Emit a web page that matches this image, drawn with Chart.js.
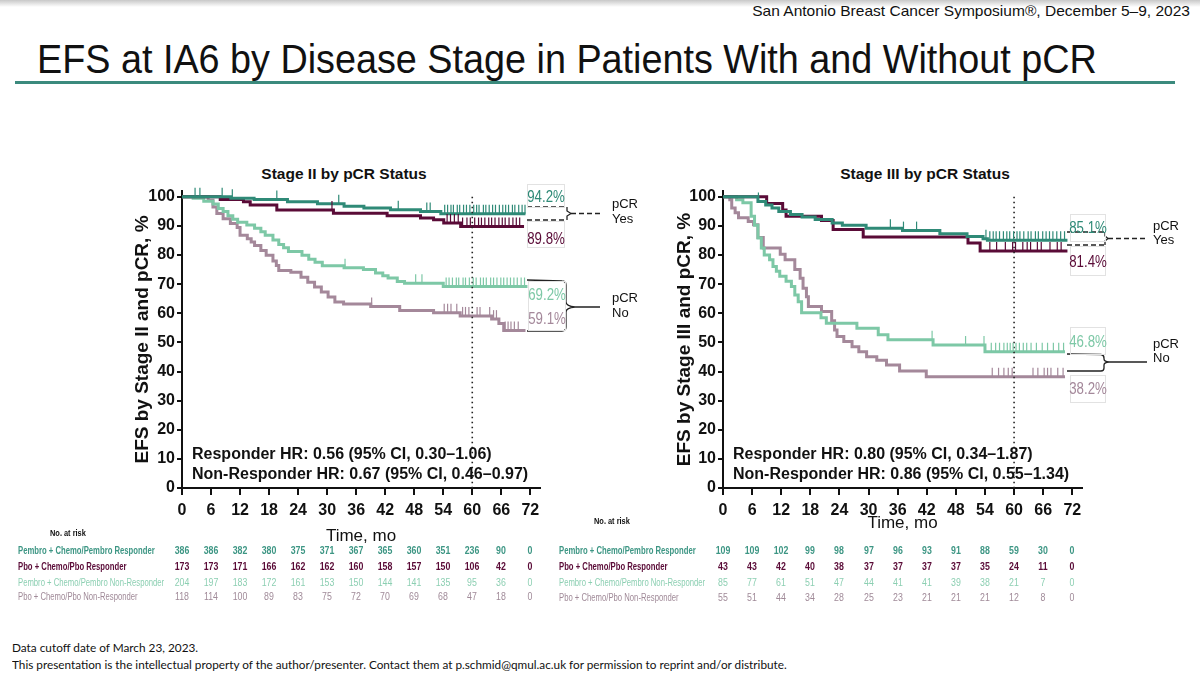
<!DOCTYPE html>
<html>
<head>
<meta charset="utf-8">
<script src="https://cdn.jsdelivr.net/npm/chart.js@4.4.0/dist/chart.umd.min.js"></script>
<style>
  body { margin:0; width:1200px; height:676px; position:relative; overflow:hidden; background:#fff;
         font-family:'Liberation Sans', Arial, sans-serif; color:#111; }
  .t { position:absolute; white-space:nowrap; line-height:1; }
  .shadow { position:absolute; left:0; top:0; width:1200px; height:7px; background:linear-gradient(#c8c8c8,#fff); }
  .rule { position:absolute; left:15px; top:81px; width:1160px; height:3px; background:#3b8a7d; }
  .box { position:absolute; border:1px solid #e2e2e2; box-sizing:border-box; }
  canvas { position:absolute; }
</style>
</head>
<body>
<div class="shadow"></div>
<div id="hdr" class="t" style="right:10px;top:3px;font-size:15px;transform-origin:right top;">San Antonio Breast Cancer Symposium®, December 5–9, 2023</div>
<div id="ttl" class="t" style="left:37px;top:39px;font-size:40px;transform-origin:left top;">EFS at IA6 by Disease Stage in Patients With and Without pCR</div>
<div class="rule"></div>

<div class="t" style="left:344px;top:166px;font-size:15.5px;font-weight:bold;transform:translateX(-50%);">Stage II by pCR Status</div>
<div class="t" style="left:925px;top:166px;font-size:15.5px;font-weight:bold;transform:translateX(-50%);">Stage III by pCR Status</div>

<canvas id="c2" width="600" height="460" style="left:0;top:150px;"></canvas>
<canvas id="c3" width="650" height="460" style="left:550px;top:150px;"></canvas>

<div id="overlay"></div>

<div class="t" style="left:12px;top:642px;font-size:11.8px;font-family:Lato,'Liberation Sans',sans-serif;">Data cutoff date of March 23, 2023.</div>
<div id="foot" class="t" style="left:12px;top:659px;font-size:11.8px;font-family:Lato,'Liberation Sans',sans-serif;transform-origin:left top;">This presentation is the intellectual property of the author/presenter. Contact them at p.schmid@qmul.ac.uk for permission to reprint and/or distribute.</div>

<script>
// ---------- data ----------
const months = [0, 6, 12, 18, 24, 30, 36, 42, 48, 54, 60, 66, 72];
const pctTicks = [0, 10, 20, 30, 40, 50, 60, 70, 80, 90, 100];

// Stage II
const s2PembroRespT = [0, 10.1, 14.9, 21.8, 28, 33.5, 37.6, 43.1, 49.3, 53.5, 71];
const s2PembroRespV = [100, 99.5, 99.1, 98.3, 97.6, 96.8, 96.2, 95.6, 95.0, 94.2, 94.2];
const s2PboRespT = [0, 7.9, 12.7, 14.1, 19.6, 31.3, 42.4, 49.3, 52, 54.1, 57.6, 70.7];
const s2PboRespV = [100, 99.1, 98.3, 97.2, 95.5, 94.4, 93.5, 92.7, 92.1, 91.0, 89.8, 89.8];
const s2PembroNonT = [0, 2.3, 4.5, 6.4, 7.5, 8.5, 9.5, 10.5, 11.5, 13.4, 15, 16.3, 17.2, 18.8, 20, 21, 22, 24.8, 26.2, 27.5, 29, 33.5, 37.5, 40, 41.5, 42.6, 44.5, 46, 54, 71.4];
const s2PembroNonV = [100, 99.5, 98.5, 97.5, 96, 95, 93.5, 92.3, 91.3, 90.3, 89.2, 88, 86.8, 85.2, 83.6, 82.5, 81.2, 79.9, 78.6, 77.5, 76.3, 75.6, 75.0, 73.8, 72.9, 72.1, 70.9, 70.3, 69.2, 69.2];
const s2PboNonT = [0, 5.4, 6.4, 7.2, 8.5, 10, 11.4, 12, 13.5, 14.3, 15, 16.3, 17.4, 18.8, 19.5, 20, 22.5, 24.6, 26, 27.4, 28.8, 30.2, 31.6, 33.4, 39, 45, 52, 57.5, 64, 65.5, 66.5, 71];
const s2PboNonV = [100, 98.8, 96.5, 94.3, 92.5, 90.8, 89.5, 86.8, 85.6, 84.5, 83.3, 81.6, 79.9, 78.0, 76.4, 74.7, 74.1, 72.4, 70.7, 69.0, 67.3, 65.6, 63.9, 63.2, 62.3, 61.0, 60.2, 59.1, 58.0, 56.5, 54.1, 54.1];

const s2PembroRespCens = [2.7, 3.7, 8.3, 10.4, 19.6, 32.4, 44.7, 50.6, 51.3, 54.3, 54.9, 55.6, 56.1, 56.9, 57.4, 58.2, 58.8, 59.5, 60.3, 60.9, 61.4, 62.3, 62.8, 63.5, 64.2, 64.8, 65.6, 66.3, 66.9, 67.5, 68.3, 68.8, 69.6, 70.3, 70.9];
const s2PboRespCens = [31.0, 54.8, 55.5, 56.3, 57.1, 58.0, 58.9, 59.6, 60.5, 61.3, 61.9, 62.6, 63.4, 64.0, 64.7, 65.5, 66.2, 66.8, 67.6, 68.4, 69.1, 69.8];
const s2PembroNonCens = [33.7, 48.3, 49.6, 54.6, 55.2, 55.9, 56.7, 57.2, 58.1, 58.6, 59.4, 60.2, 60.8, 61.7, 62.3, 62.9, 63.8, 64.4, 65.1, 65.9, 66.5, 67.2, 67.9, 68.6, 69.3, 70.1, 70.8];
const s2PboNonCens = [39.2, 54.2, 54.9, 55.6, 56.8, 58.0, 58.6, 59.3, 61.0, 61.6, 63.6, 64.4, 65.0, 66.8, 67.4, 68.0, 68.7, 69.5];

// Stage III
const s3PembroRespT = [0, 7.2, 8.8, 10.1, 11.5, 13.9, 16.3, 19, 22.5, 24.6, 29.5, 37, 44.7, 50.3, 53.6, 54.5, 71];
const s3PembroRespV = [100, 98.4, 97.2, 96.2, 95.0, 93.9, 93.1, 92.2, 91.0, 90.2, 89.2, 88.4, 87.3, 86.4, 85.6, 85.1, 85.1];
const s3PboRespT = [0, 9, 12.3, 13, 20.3, 22.7, 28.9, 50.5, 53, 71];
const s3PboRespV = [100, 97.7, 95.5, 93.3, 91.9, 88.8, 86.2, 84.1, 81.4, 81.4];
const s3PembroNonT = [0, 2.8, 4.1, 5.8, 6.5, 7.2, 7.9, 8.5, 9.6, 10.3, 11, 11.7, 13, 14.1, 14.8, 15.5, 16.2, 20.2, 21.3, 27.6, 32, 34, 43.3, 54, 70.5];
const s3PembroNonV = [100, 99, 98, 93.3, 90.2, 85.9, 82.4, 80, 78.4, 76.1, 74.4, 72.7, 71, 69.2, 66.3, 64, 60.2, 58.5, 56.6, 54.9, 52.6, 50.9, 49.1, 46.8, 46.8];
const s3PboNonT = [0, 1.4, 1.8, 2.5, 3.2, 5.2, 6.3, 7.2, 8.3, 11.8, 12.8, 14.8, 15.9, 16.5, 17.2, 17.6, 20.3, 22.4, 23, 23.5, 24.9, 26.6, 28, 29.6, 31.7, 33.7, 36.4, 41.9, 70.5];
const s3PboNonV = [100, 99, 96.2, 94.5, 92.8, 91.5, 90.4, 86, 82.4, 80.3, 78.4, 75, 72, 68.6, 65.7, 62.3, 60.6, 57.4, 54.3, 52, 50.3, 48.5, 46.8, 45.1, 43.9, 42.2, 40.2, 38.2, 38.2];

const s3PembroRespCens = [7.3, 34.5, 37.2, 39.9, 54.2, 55.0, 55.7, 56.3, 57.0, 57.8, 58.5, 59.1, 59.9, 60.6, 61.2, 62.0, 62.9, 63.5, 64.4, 65.0, 65.9, 66.6, 67.3, 68.0, 68.8, 69.6, 70.4];
const s3PboRespCens = [55.0, 56.4, 58.2, 59.7, 60.3, 61.8, 62.7, 63.4, 64.8, 65.6, 67.4, 68.9, 69.7];
const s3PembroNonCens = [43.1, 50.0, 53.8, 55.3, 56.2, 57.0, 57.9, 58.6, 59.2, 59.8, 60.4, 61.1, 61.9, 62.6, 63.5, 64.6, 65.8, 66.9, 68.1, 69.2, 70.2];
const s3PboNonCens = [55.5, 56.8, 57.9, 58.8, 59.6, 63.9, 64.9, 66.2, 66.9, 67.6, 69.0, 70.1];

// numbers at risk
const riskLabels = ['Pembro + Chemo/Pembro Responder', 'Pbo + Chemo/Pbo Responder', 'Pembro + Chemo/Pembro Non-Responder', 'Pbo + Chemo/Pbo Non-Responder'];
const s2RiskPembroResp = [386, 386, 382, 380, 375, 371, 367, 365, 360, 351, 236, 90, 0];
const s2RiskPboResp = [173, 173, 171, 166, 162, 162, 160, 158, 157, 150, 106, 42, 0];
const s2RiskPembroNon = [204, 197, 183, 172, 161, 153, 150, 144, 141, 135, 95, 36, 0];
const s2RiskPboNon = [118, 114, 100, 89, 83, 75, 72, 70, 69, 68, 47, 18, 0];
const s3RiskPembroResp = [109, 109, 102, 99, 98, 97, 96, 93, 91, 88, 59, 30, 0];
const s3RiskPboResp = [43, 43, 42, 40, 38, 37, 37, 37, 37, 35, 24, 11, 0];
const s3RiskPembroNon = [85, 77, 61, 51, 47, 44, 41, 41, 39, 38, 21, 7, 0];
const s3RiskPboNon = [55, 51, 44, 34, 28, 25, 23, 21, 21, 21, 12, 8, 0];

// ---------- style ----------
const SANS = "'Liberation Sans', Arial, sans-serif";
const colPR = '#2f8a77', colBR = '#5a0b37', colPN = '#7dc8a6', colBN = '#a4889a';
const txtPR = '#3d9684', txtBR = '#5a0b37', txtPN = '#8ccfb2', txtBN = '#a08a98';

// fit a text element to a width by squeezing it horizontally (no narrow font installed)
function fitWidth(el, w) {
  const s = w / el.offsetWidth;
  el.style.transform = 'scaleX(' + s.toFixed(3) + ')';
}
fitWidth(document.getElementById('ttl'), 1060);
fitWidth(document.getElementById('hdr'), 438);
fitWidth(document.getElementById('foot'), 775);

function stepAt(ts, vs, t) {
  let v = vs[0];
  for (let i = 0; i < ts.length; i++) { if (ts[i] <= t) v = vs[i]; }
  return v;
}

function kmSet(ts, vs, color) {
  return { data: ts.map((t, i) => ({ x: t, y: vs[i] })), stepped: true, borderColor: color,
           borderWidth: 3, pointRadius: 0, fill: false, borderCapStyle: 'butt' };
}

function makeChart(id, curves, yTitle, pad, xHeight, yWidth, drawBrackets) {
  const extras = {
    id: 'kmExtras',
    afterDatasetsDraw(chart) {
      const { ctx, scales: { x, y } } = chart;
      ctx.save();
      // 60-month reference line
      ctx.strokeStyle = '#222'; ctx.lineWidth = 1.6; ctx.setLineDash([1.5, 3.5]);
      ctx.beginPath();
      ctx.moveTo(x.getPixelForValue(60), y.getPixelForValue(100));
      ctx.lineTo(x.getPixelForValue(60), y.getPixelForValue(0));
      ctx.stroke();
      ctx.setLineDash([]);
      // censor ticks
      curves.forEach(c => {
        ctx.strokeStyle = c.color; ctx.lineWidth = 1.2;
        c.cens.forEach(t => {
          const px = x.getPixelForValue(t), py = y.getPixelForValue(stepAt(c.t, c.v, t));
          ctx.beginPath(); ctx.moveTo(px, py); ctx.lineTo(px, py - 9); ctx.stroke();
        });
      });
      drawBrackets(ctx);
      ctx.restore();
    }
  };
  return new Chart(document.getElementById(id), {
    type: 'line',
    data: { datasets: curves.map(c => kmSet(c.t, c.v, c.color)) },
    options: {
      responsive: false, animation: false,
      layout: { padding: pad },
      plugins: { legend: { display: false }, tooltip: { enabled: false } },
      scales: {
        x: {
          type: 'linear', min: 0, max: 74,
          afterBuildTicks: s => { s.ticks = months.map(v => ({ value: v })); },
          afterFit: s => { s.height = xHeight; },
          ticks: { color: '#111', padding: 6, maxRotation: 0, font: { family: SANS, size: 16, weight: 'bold' } },
          grid: { drawOnChartArea: false, drawTicks: true, tickLength: 7, color: '#111', lineWidth: 2 },
          border: { color: '#111', width: 2 },
          title: { display: true, text: 'Time, mo', color: '#111', padding: { top: 0, bottom: 4 },
                   font: { family: SANS, size: 17 } }
        },
        y: {
          min: 0, max: 102,
          afterBuildTicks: s => { s.ticks = pctTicks.map(v => ({ value: v })); },
          afterFit: s => { s.width = yWidth; },
          ticks: { color: '#111', padding: 2, font: { family: SANS, size: 16, weight: 'bold' } },
          grid: { drawOnChartArea: false, drawTicks: true, tickLength: 5, color: '#111', lineWidth: 2 },
          border: { color: '#111', width: 2 },
          title: { display: true, text: yTitle, color: '#111', padding: { top: 2, bottom: 2 },
                   font: { family: SANS, size: 19, weight: 'bold' } }
        }
      }
    },
    plugins: [extras]
  });
}

function dashed(ctx, x1, y1, x2, y2) {
  ctx.setLineDash([5, 3]); ctx.beginPath(); ctx.moveTo(x1, y1); ctx.lineTo(x2, y2); ctx.stroke(); ctx.setLineDash([]);
}

const chart2 = makeChart('c2', [
  { t: s2PembroRespT, v: s2PembroRespV, cens: s2PembroRespCens, color: colPR },
  { t: s2PboRespT, v: s2PboRespV, cens: s2PboRespCens, color: colBR },
  { t: s2PembroNonT, v: s2PembroNonV, cens: s2PembroNonCens, color: colPN },
  { t: s2PboNonT, v: s2PboNonV, cens: s2PboNonCens, color: colBN }
], 'EFS by Stage II and pCR, %', { left: 129, top: 41, right: 60, bottom: 59 }, 63, 53, ctx => {
  ctx.strokeStyle = '#222'; ctx.lineWidth = 1.3;
  dashed(ctx, 527, 57, 567, 57);
  dashed(ctx, 527, 70, 567, 70);
  ctx.beginPath(); ctx.moveTo(567, 57); ctx.lineTo(567, 61); ctx.lineTo(571, 63.5); ctx.lineTo(567, 66); ctx.lineTo(567, 70); ctx.stroke();
  dashed(ctx, 571, 63.5, 608, 63.5);
  ctx.beginPath();
  ctx.moveTo(527, 130); ctx.lineTo(562, 131); ctx.quadraticCurveTo(566, 131, 566, 135);
  ctx.lineTo(566, 152); ctx.quadraticCurveTo(566, 156, 575, 157); ctx.quadraticCurveTo(566, 158, 566, 162);
  ctx.lineTo(566, 177); ctx.quadraticCurveTo(566, 181, 562, 181); ctx.lineTo(527, 181);
  ctx.moveTo(575, 157); ctx.lineTo(608, 157);
  ctx.stroke();
});

const chart3 = makeChart('c3', [
  { t: s3PembroRespT, v: s3PembroRespV, cens: s3PembroRespCens, color: colPR },
  { t: s3PboRespT, v: s3PboRespV, cens: s3PboRespCens, color: colBR },
  { t: s3PembroNonT, v: s3PembroNonV, cens: s3PembroNonCens, color: colPN },
  { t: s3PboNonT, v: s3PboNonV, cens: s3PboNonCens, color: colBN }
], 'EFS by Stage III and pCR, %', { left: 121, top: 41, right: 118, bottom: 72 }, 50, 52, ctx => {
  ctx.strokeStyle = '#222'; ctx.lineWidth = 1.3;
  dashed(ctx, 517, 82, 555, 82);
  dashed(ctx, 517, 95, 555, 95);
  ctx.beginPath(); ctx.moveTo(555, 82); ctx.lineTo(555, 86); ctx.lineTo(558, 88.5); ctx.lineTo(555, 91); ctx.lineTo(555, 95); ctx.stroke();
  dashed(ctx, 558, 88.5, 596, 88.5);
  ctx.beginPath();
  ctx.moveTo(517, 204); ctx.lineTo(551, 204.5); ctx.quadraticCurveTo(554, 205, 554, 208);
  ctx.lineTo(554, 209); ctx.quadraticCurveTo(554, 211.5, 559, 212); ctx.quadraticCurveTo(554, 212.5, 554, 215);
  ctx.lineTo(554, 218); ctx.quadraticCurveTo(554, 221, 551, 221); ctx.lineTo(517, 221);
  ctx.moveTo(559, 212); ctx.lineTo(597, 212);
  ctx.stroke();
});

// ---------- text overlays ----------
const overlay = document.getElementById('overlay');
function addText(text, x, y, opts) {
  const d = document.createElement('div');
  d.className = 't';
  d.textContent = text;
  d.style.left = x + 'px'; d.style.top = y + 'px';
  d.style.fontSize = (opts.size || 12) + 'px';
  d.style.color = opts.color || '#111';
  if (opts.bold) d.style.fontWeight = 'bold';
  const sx = opts.sx || 1;
  if (opts.center) {
    d.style.transformOrigin = 'center center';
    d.style.transform = 'translate(-50%,-50%) scaleX(' + sx + ')';
  } else {
    d.style.transformOrigin = 'left center';
    d.style.transform = 'translateY(-50%) scaleX(' + sx + ')';
  }
  overlay.appendChild(d);
  return d;
}
function addBox(x, y, w, h) {
  const b = document.createElement('div');
  b.className = 'box';
  b.style.left = x + 'px'; b.style.top = y + 'px'; b.style.width = w + 'px'; b.style.height = h + 'px';
  overlay.appendChild(b);
}

// HR annotations
addText('Responder HR: 0.56 (95% CI, 0.30–1.06)', 192, 454, { size: 16, bold: true });
addText('Non-Responder HR: 0.67 (95% CI, 0.46–0.97)', 192, 474, { size: 16, bold: true });
addText('Responder HR: 0.80 (95% CI, 0.34–1.87)', 733, 454, { size: 16, bold: true });
addText('Non-Responder HR: 0.86 (95% CI, 0.55–1.34)', 733, 474, { size: 16, bold: true });

// 60-month estimates
const pct = { size: 17, center: true, sx: 0.78 };
addBox(527, 184, 38, 24); addText('94.2%', 546, 196, Object.assign({ color: colPR }, pct));
addBox(527, 221, 38, 27); addText('89.8%', 546, 238, Object.assign({ color: colBR }, pct));
addBox(528, 281, 38, 50);
addText('69.2%', 547, 294, Object.assign({ color: colPN }, pct));
addText('59.1%', 547, 318, Object.assign({ color: colBN }, pct));
addBox(1070, 214, 36, 28); addText('85.1%', 1088, 227, Object.assign({ color: colPR }, pct));
addBox(1070, 246, 36, 30); addText('81.4%', 1088, 261, Object.assign({ color: colBR }, pct));
addBox(1070, 327, 36, 28); addText('46.8%', 1088, 341, Object.assign({ color: colPN }, pct));
addBox(1070, 375, 36, 28); addText('38.2%', 1088, 388, Object.assign({ color: colBN }, pct));

// pCR group labels
addText('pCR', 612, 203, { size: 13 }); addText('Yes', 612, 218, { size: 13 });
addText('pCR', 612, 297, { size: 13 }); addText('No', 612, 312, { size: 13 });
addText('pCR', 1153, 225, { size: 13 }); addText('Yes', 1153, 239, { size: 13 });
addText('pCR', 1153, 343, { size: 13 }); addText('No', 1153, 357, { size: 13 });

// numbers at risk tables, columns placed on the chart's own x scale
function riskTable(chart, canvasLeft, labelLeft, headerX, headerY, rows) {
  addText('No. at risk', headerX, headerY, { size: 9.5, bold: true, sx: 0.78 });
  rows.forEach(r => {
    addText(r.label, labelLeft, r.y, { size: 11, bold: r.bold, color: r.color, sx: 0.7 });
    r.values.forEach((n, j) => {
      const px = canvasLeft + chart.scales.x.getPixelForValue(months[j]);
      addText(String(n), px, r.y, { size: 11, bold: r.bold, center: true, color: r.color, sx: 0.8 });
    });
  });
}
riskTable(chart2, 0, 18, 50, 533, [
  { label: riskLabels[0], values: s2RiskPembroResp, y: 550, color: txtPR, bold: true },
  { label: riskLabels[1], values: s2RiskPboResp, y: 566, color: txtBR, bold: true },
  { label: riskLabels[2], values: s2RiskPembroNon, y: 582, color: txtPN },
  { label: riskLabels[3], values: s2RiskPboNon, y: 596, color: txtBN }
]);
riskTable(chart3, 550, 559, 594, 521, [
  { label: riskLabels[0], values: s3RiskPembroResp, y: 550, color: txtPR, bold: true },
  { label: riskLabels[1], values: s3RiskPboResp, y: 566, color: txtBR, bold: true },
  { label: riskLabels[2], values: s3RiskPembroNon, y: 582, color: txtPN },
  { label: riskLabels[3], values: s3RiskPboNon, y: 597, color: txtBN }
]);
</script>
</body>
</html>
